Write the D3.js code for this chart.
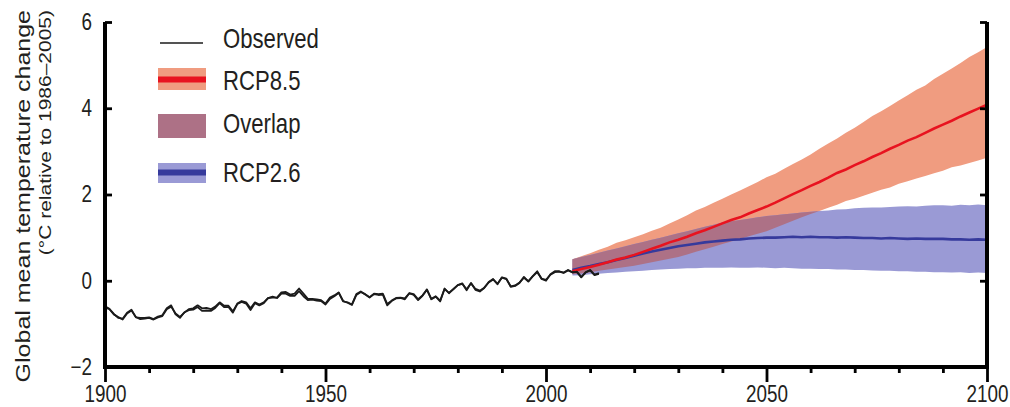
<!DOCTYPE html>
<html>
<head>
<meta charset="utf-8">
<script src="https://cdn.jsdelivr.net/npm/d3@7"></script>
<style>
	body { margin: 0; background: #fff; }
	text { fill: #231f20; font-family: 'Liberation Sans', Arial, sans-serif; }
	.tick text { font-family: 'Liberation Sans', Arial, sans-serif; font-size: 23px; fill: #231f20; }
</style>
</head>
<body>
<script>
/* Data. */
let obsYears = d3.range(1900, 2013);

// observed, first record
let observedA = [
	-0.59, -0.65, -0.77, -0.86, -0.88, -0.74, -0.67, -0.85, -0.86, -0.86,
	-0.85, -0.89, -0.83, -0.80, -0.64, -0.57, -0.78, -0.86, -0.73, -0.68,
	-0.67, -0.61, -0.70, -0.69, -0.70, -0.63, -0.52, -0.61, -0.61, -0.74,
	-0.54, -0.49, -0.53, -0.68, -0.52, -0.57, -0.52, -0.40, -0.39, -0.39,
	-0.27, -0.26, -0.32, -0.30, -0.18, -0.30, -0.42, -0.42, -0.43, -0.45,
	-0.53, -0.39, -0.34, -0.27, -0.48, -0.50, -0.55, -0.31, -0.25, -0.32,
	-0.39, -0.31, -0.33, -0.32, -0.57, -0.47, -0.41, -0.40, -0.43, -0.29,
	-0.33, -0.45, -0.35, -0.20, -0.43, -0.37, -0.48, -0.18, -0.29, -0.19,
	-0.10, -0.06, -0.22, -0.05, -0.21, -0.25, -0.17, -0.03, 0.04, -0.08,
	0.08, 0.05, -0.14, -0.12, -0.05, 0.09, -0.02, 0.11, 0.22, 0.04,
	0.00, 0.15, 0.22, 0.22, 0.19, 0.25, 0.20, 0.20, 0.08, 0.20,
	0.25, 0.14, 0.18
];

// observed, second record
let observedB = [
	-0.62, -0.66, -0.78, -0.84, -0.90, -0.76, -0.69, -0.84, -0.89, -0.88,
	-0.86, -0.90, -0.85, -0.82, -0.66, -0.60, -0.76, -0.84, -0.74, -0.66,
	-0.64, -0.57, -0.64, -0.63, -0.66, -0.60, -0.50, -0.58, -0.58, -0.71,
	-0.53, -0.47, -0.50, -0.64, -0.50, -0.55, -0.50, -0.40, -0.37, -0.40,
	-0.30, -0.30, -0.35, -0.35, -0.24, -0.36, -0.45, -0.44, -0.46, -0.47,
	-0.55, -0.42, -0.36, -0.28, -0.47, -0.51, -0.56, -0.33, -0.26, -0.31,
	-0.38, -0.30, -0.31, -0.30, -0.54, -0.46, -0.40, -0.39, -0.41, -0.29,
	-0.31, -0.43, -0.34, -0.21, -0.42, -0.36, -0.46, -0.19, -0.28, -0.20,
	-0.10, -0.07, -0.20, -0.06, -0.19, -0.23, -0.16, -0.04, 0.03, -0.07,
	0.07, 0.04, -0.13, -0.11, -0.04, 0.07, -0.01, 0.10, 0.20, 0.05,
	0.02, 0.14, 0.20, 0.21, 0.18, 0.24, 0.19, 0.21, 0.09, 0.19,
	0.24, 0.13, 0.16
];

let projYears = d3.range(2006, 2101, 2);

let rcp85Mean = [
	0.22, 0.27, 0.32, 0.37, 0.43, 0.49, 0.54, 0.60, 0.67, 0.74,
	0.81, 0.89, 0.95, 1.02, 1.10, 1.17, 1.25, 1.33, 1.41, 1.47,
	1.56, 1.64, 1.72, 1.81, 1.91, 2.01, 2.10, 2.20, 2.29, 2.39,
	2.50, 2.58, 2.68, 2.77, 2.87, 2.96, 3.06, 3.15, 3.25, 3.33,
	3.43, 3.53, 3.62, 3.71, 3.81, 3.90, 3.99, 4.08
];
let rcp85High = [
	0.50, 0.57, 0.64, 0.72, 0.79, 0.88, 0.94, 1.01, 1.08, 1.16,
	1.23, 1.33, 1.42, 1.52, 1.63, 1.71, 1.81, 1.90, 2.00, 2.09,
	2.19, 2.29, 2.40, 2.48, 2.60, 2.71, 2.81, 2.93, 3.06, 3.18,
	3.30, 3.43, 3.55, 3.68, 3.82, 3.93, 4.05, 4.18, 4.30, 4.43,
	4.53, 4.68, 4.80, 4.92, 5.05, 5.19, 5.30, 5.42
];
let rcp85Low = [
	0.15, 0.17, 0.20, 0.23, 0.26, 0.29, 0.32, 0.35, 0.39, 0.43,
	0.47, 0.51, 0.55, 0.61, 0.67, 0.73, 0.79, 0.85, 0.91, 0.97,
	1.03, 1.09, 1.15, 1.23, 1.31, 1.39, 1.47, 1.55, 1.62, 1.69,
	1.76, 1.85, 1.90, 1.97, 2.04, 2.11, 2.16, 2.25, 2.31, 2.37,
	2.43, 2.49, 2.55, 2.63, 2.67, 2.73, 2.79, 2.85
];

let rcp26Mean = [
	0.25, 0.30, 0.34, 0.39, 0.43, 0.48, 0.53, 0.58, 0.63, 0.68,
	0.72, 0.76, 0.80, 0.83, 0.86, 0.89, 0.91, 0.93, 0.95, 0.96,
	0.98, 0.99, 1.00, 1.00, 1.01, 1.02, 1.01, 1.02, 1.01, 1.01,
	1.00, 1.01, 1.00, 0.99, 0.99, 0.98, 0.99, 0.98, 0.97, 0.98,
	0.97, 0.97, 0.97, 0.96, 0.96, 0.95, 0.96, 0.95
];
let rcp26High = [
	0.50, 0.55, 0.60, 0.65, 0.70, 0.75, 0.80, 0.85, 0.90, 0.95,
	1.00, 1.05, 1.10, 1.15, 1.20, 1.25, 1.30, 1.35, 1.38, 1.41,
	1.44, 1.47, 1.50, 1.52, 1.54, 1.56, 1.58, 1.60, 1.62, 1.63,
	1.65, 1.66, 1.68, 1.69, 1.70, 1.70, 1.71, 1.72, 1.73, 1.72,
	1.74, 1.75, 1.75, 1.74, 1.76, 1.75, 1.77, 1.75
];
let rcp26Low = [
	0.12, 0.13, 0.15, 0.16, 0.18, 0.19, 0.21, 0.22, 0.23, 0.25,
	0.26, 0.27, 0.28, 0.29, 0.29, 0.30, 0.30, 0.30, 0.31, 0.30,
	0.30, 0.31, 0.30, 0.29, 0.30, 0.29, 0.28, 0.28, 0.27, 0.27,
	0.26, 0.26, 0.25, 0.25, 0.24, 0.23, 0.23, 0.22, 0.22, 0.21,
	0.21, 0.20, 0.20, 0.19, 0.20, 0.18, 0.19, 0.18
];

let xMajorTicks = [1900, 1950, 2000, 2050, 2100];
let xMinorTicks = [1910, 1920, 1930, 1940, 1960, 1970, 1980, 1990, 2010, 2020, 2030, 2040, 2060, 2070, 2080, 2090];
let yTicks = [-2, 0, 2, 4, 6];
let legendLabels = ['Observed', 'RCP8.5', 'Overlap', 'RCP2.6'];

/* Colours. */
const salmon = '#f09c80';
const red = '#e8131f';
const lavender = '#9a9ad5';
const navy = '#363a9c';
const mauve = '#ad7186';
const ink = '#1b1b1b';

// the figure is squeezed sideways, so horizontal text is narrowed
const squeeze = 0.82;

/* Scales. */
const x = d3.scaleLinear().domain([1900, 2100]).range([105, 987]);
const y = d3.scaleLinear().domain([-2, 6]).range([367, 22]);

const svg = d3.select('body').append('svg')
	.attr('width', 1010)
	.attr('height', 407);

/* Bands. */
function band(low, high) {
	return d3.area()
		.x(function(_, i) { return x(projYears[i]); })
		.y0(function(_, i) { return y(low[i]); })
		.y1(function(_, i) { return y(high[i]); });
}

svg.append('path').datum(projYears)
	.attr('d', band(rcp85Low, rcp85High))
	.attr('fill', salmon);
svg.append('path').datum(projYears)
	.attr('d', band(rcp26Low, rcp26High))
	.attr('fill', lavender);

// overlap = intersection of the two ranges
let overlapLow = projYears.map(function(_, i) { return Math.max(rcp85Low[i], rcp26Low[i]); });
let overlapHigh = projYears.map(function(_, i) { return Math.min(rcp85High[i], rcp26High[i]); });
svg.append('path').datum(projYears)
	.attr('d', band(overlapLow, overlapHigh)
		.defined(function(_, i) { return overlapHigh[i] >= overlapLow[i]; }))
	.attr('fill', mauve);

/* Lines. */
function series(years, values) {
	return d3.line()
		.x(function(_, i) { return x(years[i]); })
		.y(function(v) { return y(v); })(values);
}

svg.append('path')
	.attr('d', series(projYears, rcp26Mean))
	.attr('fill', 'none').attr('stroke', navy).attr('stroke-width', 2.6);
svg.append('path')
	.attr('d', series(projYears, rcp85Mean))
	.attr('fill', 'none').attr('stroke', red).attr('stroke-width', 2.6);

for (let obs of [observedB, observedA]) {
	svg.append('path')
		.attr('d', series(obsYears, obs))
		.attr('fill', 'none')
		.attr('stroke', ink)
		.attr('stroke-width', 1.8)
		.attr('stroke-linejoin', 'round');
}

/* Axes. */
function styleTicks(g) {
	g.select('.domain').remove();
	g.selectAll('.tick line').attr('stroke', '#000').attr('stroke-width', 2.8);
}

function narrowLabels(g) {
	g.selectAll('.tick text').each(function() {
		let t = d3.select(this);
		t.attr('x', (+t.attr('x') || 0) / squeeze)
			.attr('transform', 'scale(' + squeeze + ',1)');
	});
}

svg.append('g')
	.attr('transform', 'translate(' + x(1900) + ',0)')
	.call(d3.axisRight(y).tickValues(yTicks.slice(1)).tickSize(7).tickFormat(''))
	.call(styleTicks);
svg.append('g')
	.attr('transform', 'translate(' + x(2100) + ',0)')
	.call(d3.axisLeft(y).tickValues(yTicks.slice(1)).tickSize(7).tickFormat(''))
	.call(styleTicks);
svg.append('g')
	.attr('transform', 'translate(' + x(1900) + ',0)')
	.call(d3.axisLeft(y).tickValues(yTicks).tickSize(0).tickPadding(13))
	.call(styleTicks)
	.call(narrowLabels);

svg.append('g')
	.attr('transform', 'translate(0,' + y(-2) + ')')
	.call(d3.axisBottom(x).tickValues(xMinorTicks).tickSize(6).tickFormat(''))
	.call(styleTicks);
svg.append('g')
	.attr('transform', 'translate(0,' + y(-2) + ')')
	.call(d3.axisBottom(x).tickValues(xMajorTicks).tickSize(15).tickPadding(4).tickFormat(d3.format('d')))
	.call(styleTicks)
	.call(narrowLabels);

// frame: left, bottom and right sides
svg.append('path')
	.attr('d', 'M' + x(1900) + ',' + y(6) + 'V' + y(-2) + 'H' + x(2100) + 'V' + y(6))
	.attr('fill', 'none')
	.attr('stroke', '#000')
	.attr('stroke-width', 4)
	.attr('stroke-linejoin', 'miter');

/* Axis title, rotated. */
svg.append('text')
	.attr('transform', 'translate(30,10) scale(' + squeeze + ',1) rotate(-90)')
	.attr('text-anchor', 'end')
	.attr('font-size', 25)
	.text('Global mean temperature change');
svg.append('text')
	.attr('transform', 'translate(51,10) scale(' + squeeze + ',1) rotate(-90)')
	.attr('text-anchor', 'end')
	.attr('font-size', 21)
	.text('(°C relative to 1986–2005)');

/* Legend. */
let legend = svg.append('g');
legend.append('line')
	.attr('x1', 160).attr('x2', 203)
	.attr('y1', 43).attr('y2', 43)
	.attr('stroke', ink).attr('stroke-width', 1.6);

legend.append('rect').attr('x', 158).attr('y', 68).attr('width', 48).attr('height', 22).attr('fill', salmon);
legend.append('line').attr('x1', 158).attr('x2', 206).attr('y1', 79.5).attr('y2', 79.5)
	.attr('stroke', red).attr('stroke-width', 6);
legend.append('rect').attr('x', 158).attr('y', 114).attr('width', 48).attr('height', 24).attr('fill', mauve);
legend.append('rect').attr('x', 158).attr('y', 163).attr('width', 48).attr('height', 20).attr('fill', lavender);
legend.append('line').attr('x1', 158).attr('x2', 206).attr('y1', 172.5).attr('y2', 172.5)
	.attr('stroke', navy).attr('stroke-width', 6);

let legendBaselines = [48, 90, 133, 182];
legend.selectAll('.label')
		.data(legendLabels)
	.enter().append('text')
		.attr('class', 'label')
		.attr('transform', function(_, i) {
			return 'translate(223,' + legendBaselines[i] + ') scale(' + squeeze + ',1)';
		})
		.attr('font-size', 27)
		.text(function(d) { return d; });
</script>
</body>
</html>
